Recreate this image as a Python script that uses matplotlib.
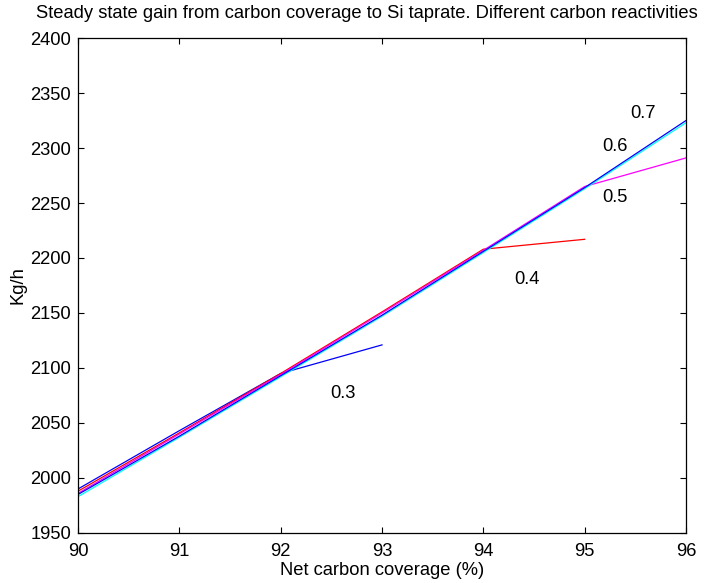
import matplotlib
matplotlib.use("Agg")
import matplotlib.pyplot as plt

plt.rcParams['font.family'] = ['Liberation Sans', 'DejaVu Sans']

x_all = [90, 91, 92, 93, 94, 95, 96]
y03 = [1990, 2043, 2095, 2121]
y04 = [1988, 2041, 2095, 2151, 2208, 2217]
y05 = [1986, 2040, 2094, 2150, 2207, 2265, 2291]
y06 = [1983, 2037, 2092, 2147, 2205, 2263, 2323]
y07 = [1985, 2038, 2093, 2148, 2206, 2264, 2325]

series = [(y03, 'blue'), (y04, 'red'), (y05, 'magenta'), (y06, 'cyan'), (y07, 'blue')]

labels = ['0.3', '0.4', '0.5', '0.6', '0.7']
label_x = [92.49, 94.3, 95.17, 95.17, 95.45]
label_y = [2077, 2180, 2255, 2301, 2331]

title = 'Steady state gain from carbon coverage to Si taprate. Different carbon reactivities'

fig = plt.figure(figsize=(7.09, 5.83), dpi=100)
ax = fig.add_axes([0.110, 0.0858, 0.8576, 0.849])

for ys, c in series:
    ax.plot(x_all[:len(ys)], ys, color=c, lw=0.9)

fs = 13.2
for lab, lx, ly in zip(labels, label_x, label_y):
    ax.text(lx, ly, lab, fontsize=fs, ha='left', va='center')

ax.set_xlim(90, 96)
ax.set_ylim(1950, 2400)
ax.set_xticks(x_all)
ax.set_yticks(range(1950, 2401, 50))
ax.tick_params(direction='in', top=True, right=True, length=4, width=0.8,
               labelsize=fs, pad=5)
ax.tick_params(axis='x', pad=7)
for s in ax.spines.values():
    s.set_linewidth(0.9)
ax.set_xlabel('Net carbon coverage (%)', fontsize=fs, labelpad=2)
ax.set_ylabel('Kg/h', fontsize=fs, labelpad=3)
fig.text(367/709, 1 - 14/583, title, fontsize=fs, ha='center', va='center')

fig.savefig('out.png', dpi=100)
